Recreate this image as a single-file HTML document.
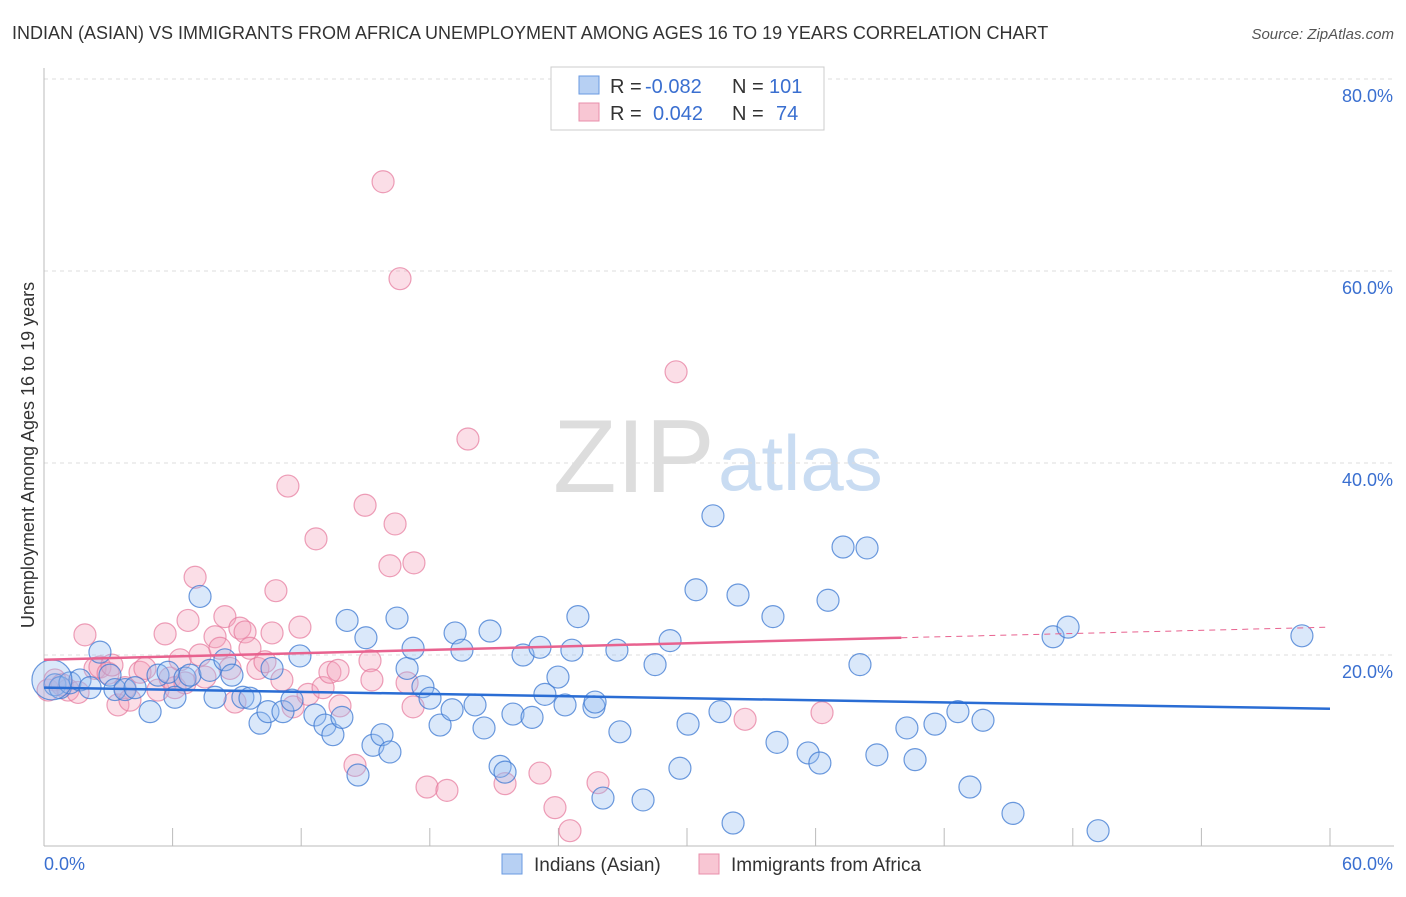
<!DOCTYPE html>
<html><head><meta charset="utf-8"><style>
body{margin:0;background:#fff;font-family:"Liberation Sans",sans-serif;}
svg text{font-family:"Liberation Sans",sans-serif;}
</style></head><body>
<svg id="chart" width="1406" height="892">
<text x="12" y="39" font-size="18" fill="#333">INDIAN (ASIAN) VS IMMIGRANTS FROM AFRICA UNEMPLOYMENT AMONG AGES 16 TO 19 YEARS CORRELATION CHART</text>
<text x="1394" y="39" font-size="15" fill="#555" text-anchor="end" font-style="italic">Source: ZipAtlas.com</text>
<text x="34" y="455" font-size="18" fill="#333" text-anchor="middle" transform="rotate(-90 34 455)">Unemployment Among Ages 16 to 19 years</text>
<text x="553" y="492" font-size="104" fill="#ddd" font-family="Liberation Serif">ZIP</text>
<text x="718" y="490" font-size="78" fill="#c9dcf2">atlas</text>
<g id="grid"></g><g id="pts"></g><g id="lines"></g>
<g>
<rect x="551" y="67" width="273" height="63" fill="#fff" stroke="#ccc"/>
<rect x="579" y="76" width="20" height="18" fill="#b7d0f3" stroke="#6a9ae0"/>
<rect x="579" y="103" width="20" height="18" fill="#f8c6d3" stroke="#e88fab"/>
<text x="610" y="93" font-size="20" fill="#333">R =</text>
<text x="645" y="93" font-size="20" fill="#3a6fd0">-0.082</text>
<text x="732" y="93" font-size="20" fill="#333">N =</text>
<text x="769" y="93" font-size="20" fill="#3a6fd0">101</text>
<text x="610" y="120" font-size="20" fill="#333">R =</text>
<text x="653" y="120" font-size="20" fill="#3a6fd0">0.042</text>
<text x="732" y="120" font-size="20" fill="#333">N =</text>
<text x="776" y="120" font-size="20" fill="#3a6fd0">74</text>
</g>
<g>
<rect x="502" y="854" width="20" height="20" fill="#b7d0f3" stroke="#6a9ae0"/>
<text x="534" y="871" font-size="19" fill="#333">Indians (Asian)</text>
<rect x="699" y="854" width="20" height="20" fill="#f8c6d3" stroke="#e88fab"/>
<text x="731" y="871" font-size="19" fill="#333">Immigrants from Africa</text>
</g>
<text x="44" y="870" font-size="18" fill="#3a6fd0">0.0%</text>
<text x="1393" y="870" font-size="18" fill="#3a6fd0" text-anchor="end">60.0%</text>
</svg>
<script>
const yTicks=[20,40,60,80];
const blueX=[0.51,0.75,1.21,1.68,2.15,2.61,3.08,3.31,3.78,4.25,4.95,5.32,5.79,6.11,6.58,6.81,7.28,7.74,7.98,8.44,8.77,9.28,9.61,10.08,10.45,10.64,11.15,11.57,11.94,12.64,13.11,13.48,13.9,14.14,14.65,15.02,15.35,15.77,16.14,16.47,16.94,17.22,17.68,18.01,18.48,19.04,19.18,19.5,20.11,20.53,20.81,21.28,21.51,21.88,22.35,22.77,23.14,23.37,23.98,24.31,24.63,24.91,25.66,25.71,26.08,26.73,26.87,27.95,28.51,29.21,29.67,30.05,30.42,31.21,31.54,32.15,32.38,34.01,34.2,35.65,36.2,36.58,37.28,38.07,38.4,38.86,40.26,40.64,41.57,42.64,43.2,43.81,45.21,47.08,47.78,49.18,58.69,0.37];
const blueY=[16.9,16.6,17.1,17.4,16.6,20.3,17.9,16.4,16.4,16.6,14.1,17.9,18.2,15.6,17.6,17.9,26.1,18.4,15.6,19.5,17.9,15.6,15.5,12.9,14.1,18.6,14.1,15.3,19.9,13.75,12.7,11.7,13.5,23.6,7.5,21.8,10.6,11.7,9.9,23.85,18.6,20.7,16.7,15.5,12.7,14.3,22.3,20.5,14.8,12.4,22.5,8.4,7.8,13.85,20.0,13.5,20.8,15.9,17.7,14.8,20.5,24.0,14.6,15.1,5.1,20.5,12.0,4.9,19.0,21.5,8.2,12.8,26.8,34.5,14.1,2.5,26.25,24.0,10.9,9.8,8.75,25.7,31.25,19.0,31.15,9.6,12.4,9.1,12.8,14.1,6.25,13.2,3.5,21.9,22.9,1.7,22.0,17.4];
const blueR=[11,11,11,11,11,11,11,11,11,11,11,11,11,11,11,11,11,11,11,11,11,11,11,11,11,11,11,11,11,11,11,11,11,11,11,11,11,11,11,11,11,11,11,11,11,11,11,11,11,11,11,11,11,11,11,11,11,11,11,11,11,11,11,11,11,11,11,11,11,11,11,11,11,11,11,11,11,11,11,11,11,11,11,11,11,11,11,11,11,11,11,11,11,11,11,11,11,20];
const pinkX=[0.19,0.51,0.84,1.12,1.59,1.91,2.38,2.61,2.99,3.17,3.45,3.78,4.01,4.48,4.71,5.32,5.65,5.88,6.11,6.35,6.58,6.72,7.05,7.28,7.51,7.98,8.21,8.44,8.68,8.91,9.14,9.38,9.61,9.98,10.31,10.64,10.82,11.1,11.38,11.62,11.94,12.32,12.69,13.02,13.34,13.72,13.81,14.51,14.98,15.21,15.3,15.82,16.14,16.38,16.61,16.94,17.22,17.26,17.87,18.8,19.78,21.51,23.14,23.84,24.54,25.85,29.49,32.71,36.3];
const pinkY=[16.35,17.4,16.9,16.35,16.1,22.1,18.6,18.75,18.1,18.95,14.8,16.6,15.3,18.2,18.6,16.35,22.2,17.6,16.6,19.5,17.1,23.6,28.1,20.0,17.7,21.9,20.7,24.0,18.6,15.1,22.8,22.4,20.7,18.6,19.3,22.3,26.7,17.4,37.6,14.6,22.9,15.9,32.1,16.6,18.2,18.4,14.7,8.5,35.6,19.4,17.4,69.3,29.3,33.65,59.2,17.1,14.6,29.6,6.25,5.9,42.5,6.6,7.7,4.1,1.7,6.7,49.5,13.3,14.0];
const blueTrend=[16.6,14.4];
const pinkTrend=[19.5,21.8,22.9];
const X0=44,X1=1330,Y0=847,YS=9.6;
const sx=v=>X0+(X1-X0)*v/60, sy=v=>Y0-v*YS;
const NS='http://www.w3.org/2000/svg';
function mk(tag,attrs,parent){const e=document.createElementNS(NS,tag);for(const k in attrs)e.setAttribute(k,attrs[k]);parent.appendChild(e);return e;}
const grid=document.getElementById('grid');
yTicks.forEach(t=>{
 const l=mk('line',{x1:44,x2:1394,y1:sy(t),y2:sy(t),stroke:'#ddd','stroke-dasharray':'4,4'},grid);
 
 
 const tx=mk('text',{x:1393,y:sy(t)+23,'font-size':18,fill:'#3a6fd0','text-anchor':'end'},grid);
 tx.textContent=t.toFixed(1)+'%';
 
 
});
const ax=mk('line',{x1:44,x2:44,y1:68,y2:846,stroke:'#bbb'},grid);


const bx=mk('line',{x1:44,x2:1394,y1:846,y2:846,stroke:'#bbb'},grid);


for(let i=0;i<=10;i++){const v=i*6;const tk=mk('line',{x1:sx(v),x2:sx(v),y1:828,y2:846,stroke:'#bbb'},grid);
 
 }
const pts=document.getElementById('pts');
pinkX.forEach((x,i)=>{const c=mk('circle',{cx:sx(x),cy:sy(pinkY[i]),r:11,fill:'rgba(244,160,185,0.35)',stroke:'rgba(230,120,155,0.7)','stroke-width':1.2},pts);
 
 });
blueX.forEach((x,i)=>{const c=mk('circle',{cx:sx(x),cy:sy(blueY[i]),r:blueR[i]||11,fill:'rgba(150,190,240,0.35)',stroke:'rgba(60,120,210,0.75)','stroke-width':1.2},pts);
 
 });
const lines=document.getElementById('lines');
const b=mk('line',{x1:sx(0),y1:sy(blueTrend[0]),x2:sx(60),y2:sy(blueTrend[1]),stroke:'#2a6dd4','stroke-width':2.5},lines);


const p=mk('line',{x1:sx(0),y1:sy(pinkTrend[0]),x2:sx(40),y2:sy(pinkTrend[1]),stroke:'#e8628f','stroke-width':2.5},lines);


const pd=mk('line',{x1:sx(40),y1:sy(pinkTrend[1]),x2:sx(60),y2:sy(pinkTrend[2]),stroke:'#e8628f','stroke-width':1,'stroke-dasharray':'6,5'},lines);


</script>
</body></html>
